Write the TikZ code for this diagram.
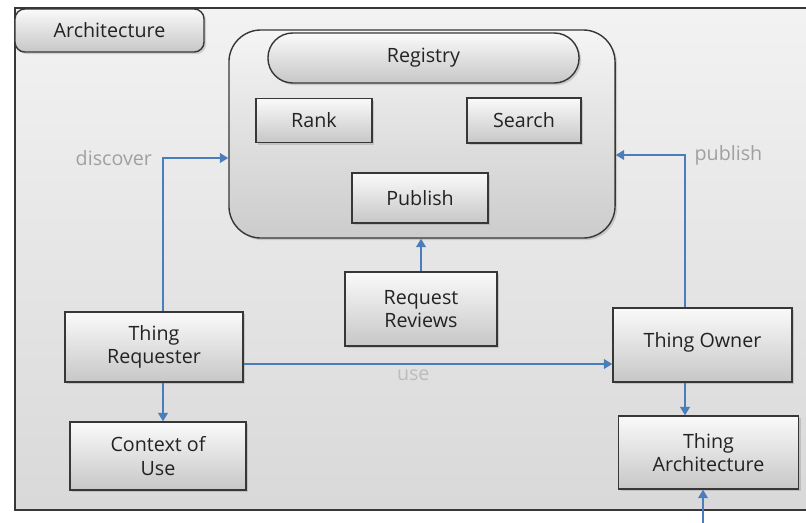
\documentclass[tikz,border=0pt]{standalone}
\usepackage{fontspec}
\setmainfont{Open Sans}
\usetikzlibrary{arrows.meta,shadows}
\definecolor{arrowblue}{RGB}{74,126,187}
\definecolor{labelgray}{RGB}{160,160,160}
\definecolor{boxline}{RGB}{55,55,55}
\definecolor{textgray}{RGB}{35,35,35}

\begin{document}
\begin{tikzpicture}[x=0.025cm,y=-0.025cm,>={Triangle[width=7pt,length=6pt]},font=\fontsize{14}{16.5}\selectfont,main node/.style={draw=boxline,line width=1pt,top color=black!2,bottom color=black!22,text=textgray,align=center,inner sep=0pt,drop shadow={opacity=0.3,shadow xshift=1.5pt,shadow yshift=-1.5pt}},link/.style={->,draw=arrowblue,line width=1pt},gray text/.style={text=labelgray}]
  \clip (0,0) rectangle (806,522);
  \fill[white] (0,0) rectangle (806,522);
  \draw[draw=boxline,line width=1.2pt,top color=black!5,bottom color=black!15] (15,8) rectangle (830,510);

  \node[main node,rounded corners=7pt,minimum width=4.725cm,minimum height=1.075cm] (11) at (109.5,30.5) {Architecture};
  \node[main node,rounded corners=0.8cm,minimum width=9.65cm,minimum height=5.2cm,top color=black!4,bottom color=black!20] (1) at (422,134) {};
  \node[main node,rounded corners=0.62cm,minimum width=7.775cm,minimum height=1.25cm] (2) at (423.5,58) {\raisebox{-2pt}{Registry}};
  \node[main node,minimum width=2.9cm,minimum height=1.1cm] (3) at (314,120.5) {Rank};
  \node[main node,minimum width=2.85cm,minimum height=1.125cm] (4) at (524,120.5) {Search};
  \node[main node,minimum width=3.4cm,minimum height=1.25cm] (5) at (420,198) {Publish};
  \node[main node,minimum width=3.8cm,minimum height=1.85cm] (6) at (421,309) {Request\\Reviews};
  \node[main node,minimum width=4.45cm,minimum height=1.75cm] (7) at (154,347) {Thing\\Requester};
  \node[main node,minimum width=4.4cm,minimum height=1.7cm] (8) at (158,456) {Context of\\Use};
  \node[main node,minimum width=4.475cm,minimum height=1.85cm] (9) at (702.5,345) {\raisebox{7pt}{Thing Owner}};
  \node[main node,minimum width=4.5cm,minimum height=1.825cm] (10) at (708.5,452.5) {Thing\\Architecture};
  \coordinate (12) at (703,530);

  \draw[link] (7.north -| 163,0) |- (1.west |- 0,158) node[pos=0.5,left=4pt,gray text] {discover};
  \draw[link] (9.north -| 685,0) |- (1.east |- 0,155) node[pos=0.5,right=3pt,gray text] {publish};
  \draw[link] (6.north) -- (1.south -| 6.north);
  \draw[link] (7.east |- 0,364) -- (9.west |- 0,364) node[pos=0.46,below=0pt,text=labelgray!70] {use};
  \draw[link] (7.south -| 163,0) -- (8.north -| 163,0);
  \draw[link] (9.south -| 685,0) -- (10.north -| 685,0);
  \draw[link] (12) -- (10.south -| 12);
\end{tikzpicture}
\end{document}
